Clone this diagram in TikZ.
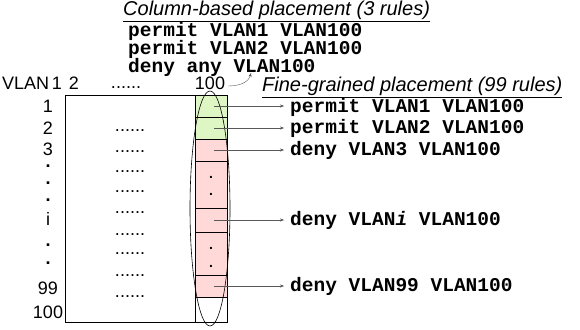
\documentclass[tikz,border=0pt]{standalone}
\usepackage{fontspec}
\setmainfont{Liberation Sans}
\setmonofont{Liberation Mono}
\usetikzlibrary{arrows.meta}

\definecolor{allowgreen}{RGB}{222,246,196}
\definecolor{denypink}{RGB}{255,216,216}

\tikzset{
  rule/.style={font=\fontsize{19.5}{22}\selectfont\ttfamily\bfseries, inner sep=0pt, anchor=west},
  heading/.style={font=\fontsize{20}{22}\selectfont\itshape, inner sep=0pt, anchor=west},
  lbl/.style={font=\fontsize{18}{20}\selectfont, inner sep=0pt},
  cell/.style={draw, minimum width=32pt, inner sep=0pt, anchor=north west, outer sep=0pt},
  ptr/.style={draw=black!65, -{Stealth[length=4pt,width=3pt]}, thin},
}

\begin{document}
\begin{tikzpicture}[x=1pt, y=-1pt]
  \useasboundingbox (0,0) rectangle (580,329);

  % column-based rules
  \node[heading] (colhead) at (123,11) {\underline{Column-based placement (3 rules)}};
  \node[rule] (t1) at (128,31) {permit VLAN1 VLAN100};
  \node[rule] (t2) at (128,49) {permit VLAN2 VLAN100};
  \node[rule] (t3) at (128,67) {deny any VLAN100};

  % header row
  \node[lbl, anchor=west] (hvlan) at (2,83) {VLAN};
  \node[lbl] (h1) at (57,83) {1};
  \node[lbl] (h2) at (74,83) {2};
  \node[lbl] (hdots) at (126,88) {......};
  \node[lbl] (h100) at (210,83) {100};
  \node[heading] (finehead) at (262,87) {\underline{Fine-grained placement (99 rules)}};

  % the table
  \node[cell, fill=allowgreen, minimum height=22pt] (c1) at (195,95) {};
  \node[cell, fill=allowgreen, minimum height=22pt] (c2) at (195,117) {};
  \node[cell, fill=denypink, minimum height=22pt] (c3) at (195,139) {};
  \node[cell, fill=denypink, minimum height=47pt] (d1) at (195,161) {};
  \node[cell, fill=denypink, minimum height=24pt] (ci) at (195,208) {};
  \node[cell, fill=denypink, minimum height=43pt] (d2) at (195,232) {};
  \node[cell, fill=denypink, minimum height=22pt] (c99) at (195,275) {};
  \draw[line width=0.8pt] (65,95) rectangle (227,322);
  \draw[line width=0.8pt] (195,95) -- (195,322);
  \draw[line width=0.6pt] (210,208.5) ellipse [x radius=20, y radius=117.5];

  % row labels
  \foreach \lab/\y in {1/106, 2/128, 3/149, i/219, 99/288, 100/312}
    \node[lbl] at (48,\y) {\lab};
  \foreach \y in {166, 183, 200, 245, 263}
    \node[lbl, font=\fontsize{18}{20}\selectfont\bfseries] at (48,\y) {.};
  \foreach \y in {131, 152, 172, 192, 213, 235, 254, 276, 297}
    \node[lbl] at (130,\y) {......};
  \foreach \y in {177, 194, 248, 266}
    \node[lbl, font=\fontsize{14}{16}\selectfont\bfseries] at (211,\y) {.};

  % fine-grained rules
  \node[rule] (r1) at (290,107) {permit VLAN1 VLAN100};
  \node[rule] (r2) at (290,128) {permit VLAN2 VLAN100};
  \node[rule] (r3) at (290,150) {deny VLAN3 VLAN100};
  \node[rule] (ri) at (290,220) {deny VLAN\textit{i} VLAN100};
  \node[rule] (r99) at (290,286) {deny VLAN99 VLAN100};

  \foreach \c/\r in {c1/r1, c2/r2, c3/r3, ci/ri, c99/r99}
    \draw[ptr, shorten >=6pt] ([xshift=3pt]\c.center) -- (\c.center -| \r.west);

  \coordinate (tgt) at (251,73);
  \draw[ptr] ([shift={(3pt,-3pt)}]h100.east) to[out=0,in=-105] (tgt);
\end{tikzpicture}
\end{document}
